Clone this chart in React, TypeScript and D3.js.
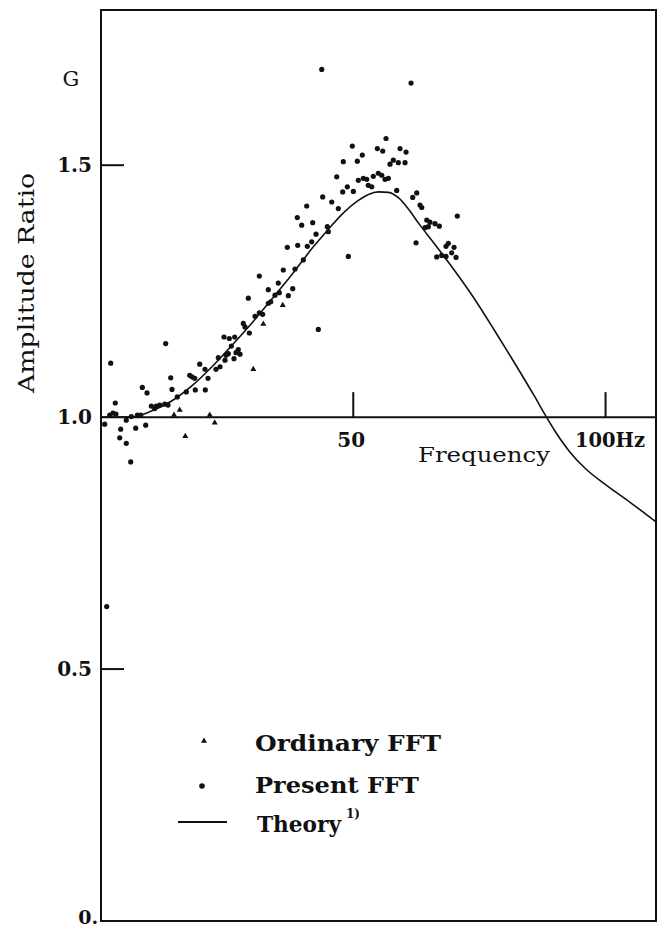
import React from "react";
import * as d3 from "d3";

// Present FFT samples [frequency Hz, amplitude ratio]
const presentFFT: [number, number][] = [
  [0.73, 0.986], [1.72, 1.004], [2.38, 1.008], [2.97, 1.006], [1.92, 1.107],
  [2.83, 1.028], [3.9, 0.976], [3.71, 0.959], [5.01, 0.948], [5.89, 0.911],
  [5.01, 0.994], [6.01, 1.001], [6.88, 0.978], [7.2, 1.004], [7.87, 1.004],
  [8.86, 0.984], [8.19, 1.059], [9.12, 1.048], [9.97, 1.022], [10.64, 1.017],
  [10.96, 1.022], [11.64, 1.024], [12.63, 1.026], [13.28, 1.024], [12.82, 1.146],
  [13.82, 1.078], [14.07, 1.055], [15.12, 1.04], [16.91, 1.05], [17.58, 1.083],
  [18.04, 1.08], [18.57, 1.077], [18.69, 1.054], [19.56, 1.105], [20.67, 1.054],
  [21.21, 1.077], [20.61, 1.095], [22.79, 1.095], [23.59, 1.1], [23.25, 1.118],
  [24.58, 1.113], [26.36, 1.116], [25.23, 1.126], [24.78, 1.123], [27.21, 1.134],
  [26.76, 1.128], [27.55, 1.125], [24.38, 1.159], [25.43, 1.156], [25.83, 1.141],
  [26.5, 1.159], [28.21, 1.186], [28.54, 1.179], [29.4, 1.167], [30.53, 1.2],
  [31.38, 1.207], [32.05, 1.204], [33.16, 1.226], [33.64, 1.229], [29.2, 1.236],
  [31.38, 1.28], [33.16, 1.253], [34.49, 1.242], [35.34, 1.247], [35.14, 1.266],
  [36.13, 1.292], [37.13, 1.241], [38.0, 1.255], [38.45, 1.294], [40.1, 1.312],
  [36.93, 1.337], [38.99, 1.341], [40.89, 1.339], [41.76, 1.348], [42.62, 1.363],
  [38.91, 1.396], [39.78, 1.381], [41.96, 1.386], [40.77, 1.419], [44.86, 1.378],
  [45.05, 1.368], [43.07, 1.174], [43.94, 1.437], [45.73, 1.427], [47.04, 1.414],
  [46.72, 1.477], [48.03, 1.507], [49.81, 1.538], [48.82, 1.457], [47.91, 1.447],
  [50.01, 1.448], [50.8, 1.508], [51.79, 1.52], [51.0, 1.47], [51.99, 1.474],
  [52.67, 1.472], [52.98, 1.46], [53.66, 1.457], [53.97, 1.478], [54.96, 1.484],
  [55.64, 1.48], [56.29, 1.472], [56.95, 1.474], [54.77, 1.533], [55.84, 1.528],
  [56.49, 1.553], [57.28, 1.502], [57.94, 1.51], [58.93, 1.505], [60.26, 1.505],
  [59.27, 1.533], [60.46, 1.526], [58.61, 1.45], [62.58, 1.445], [61.78, 1.436],
  [63.23, 1.421], [63.57, 1.416], [62.44, 1.346], [64.56, 1.391], [65.21, 1.387],
  [64.88, 1.378], [64.22, 1.376], [66.2, 1.384], [67.06, 1.379], [70.62, 1.399],
  [49.02, 1.319], [68.84, 1.345], [68.38, 1.339], [69.51, 1.326], [69.97, 1.337],
  [66.54, 1.318], [67.53, 1.321], [68.38, 1.319], [70.37, 1.317],
  [43.75, 1.69], [61.45, 1.663], [1.13, 0.624],
];

// Ordinary FFT samples
const ordinaryFFT: [number, number][] = [
  [14.47, 1.004], [15.6, 1.014], [21.55, 1.004], [16.71, 0.962],
  [22.54, 0.989], [30.19, 1.095], [32.17, 1.185], [36.02, 1.222],
];

// Theory curve
const theory: [number, number][] = [
  [0, 1.0], [6, 1.0], [10, 1.012], [14, 1.032], [18, 1.062], [22, 1.1],
  [26, 1.143], [30, 1.188], [34, 1.236], [38, 1.285], [42, 1.337], [45, 1.372],
  [48, 1.405], [51, 1.43], [53, 1.442], [55, 1.447], [57, 1.446], [59, 1.435],
  [61, 1.412], [63, 1.384], [66, 1.345], [70, 1.292], [74, 1.235], [78, 1.172],
  [82, 1.107], [86, 1.04], [88, 1.005], [90, 0.972], [93, 0.93], [96, 0.898],
  [100, 0.866], [105, 0.83], [110, 0.792],
];

const yTicks = [0.5, 1.5];
const yTickLabels = [
  { v: 0, label: "0." },
  { v: 0.5, label: "0.5" },
  { v: 1.0, label: "1.0" },
  { v: 1.5, label: "1.5" },
];
const xTicks = [50, 100];
const xTickLabels = ["50", "100Hz"];

const W = 664;
const H = 929;
const serif = "'DejaVu Serif', 'Liberation Serif', serif";

export default function App() {
  const x = d3.scaleLinear().domain([0, 110]).range([101, 656]);
  const y = d3.scaleLinear().domain([0, 1.808]).range([921, 10]);

  const line = d3
    .line<[number, number]>()
    .x((d) => x(d[0]))
    .y((d) => y(d[1]))
    .curve(d3.curveMonotoneX);

  const tri = d3.symbol().type(d3.symbolTriangle).size(16)();

  const x0 = x.range()[0];
  const x1 = x.range()[1];
  const yTop = y.range()[1];
  const yBot = y.range()[0];

  return (
    <svg
      width={W}
      height={H}
      style={{ position: "absolute", left: 0, top: 0, background: "#fff" }}
    >
      {/* frame */}
      <rect
        x={x0}
        y={yTop}
        width={x1 - x0}
        height={yBot - yTop}
        fill="none"
        stroke="#111"
        strokeWidth={2}
      />
      {/* frequency axis at G = 1 */}
      <line x1={x0} x2={x1} y1={y(1)} y2={y(1)} stroke="#111" strokeWidth={2} />
      {xTicks.map((t) => (
        <line
          key={t}
          x1={x(t)}
          x2={x(t)}
          y1={y(1)}
          y2={y(1) - 25}
          stroke="#111"
          strokeWidth={2}
        />
      ))}
      {yTicks.map((t) => (
        <line
          key={t}
          x1={x0}
          x2={x0 + 23}
          y1={y(t)}
          y2={y(t)}
          stroke="#111"
          strokeWidth={2}
        />
      ))}

      {/* theory */}
      <path d={line(theory) ?? ""} fill="none" stroke="#111" strokeWidth={1.6} />

      {presentFFT.map((d, i) => (
        <circle key={i} cx={x(d[0])} cy={y(d[1])} r={2.6} fill="#111" />
      ))}
      {ordinaryFFT.map((d, i) => (
        <path
          key={i}
          d={tri ?? ""}
          transform={`translate(${x(d[0])},${y(d[1])})`}
          fill="#111"
        />
      ))}

      {/* y tick labels */}
      {yTickLabels.map((t) => (
        <text
          key={t.label}
          x={t.v === 0 ? 98 : 92}
          y={t.v === 0 ? 924 : y(t.v) + 7}
          textAnchor="end"
          fontFamily={serif}
          fontWeight="bold"
          fontSize={t.v === 0 ? 19 : 20}
          fill="#111"
        >
          {t.label}
        </text>
      ))}
      {/* x tick labels */}
      <text
        x={x(xTicks[0]) - 2}
        y={447}
        textAnchor="middle"
        fontFamily={serif}
        fontWeight="bold"
        fontSize={20}
        fill="#111"
      >
        {xTickLabels[0]}
      </text>
      <text
        x={575}
        y={447}
        textLength={70}
        lengthAdjust="spacingAndGlyphs"
        fontFamily={serif}
        fontWeight="bold"
        fontSize={20}
        fill="#111"
      >
        {xTickLabels[1]}
      </text>
      <text
        x={418}
        y={462}
        textLength={132}
        lengthAdjust="spacingAndGlyphs"
        fontFamily={serif}
        fontSize={20}
        fill="#111"
      >
        Frequency
      </text>

      {/* axis titles */}
      <text x={71} y={86} textAnchor="middle" fontFamily={serif} fontSize={21} fill="#111">
        G
      </text>
      <text
        transform="translate(34,393) rotate(-90)"
        textLength={220}
        lengthAdjust="spacingAndGlyphs"
        fontFamily={serif}
        fontSize={23}
        fill="#111"
      >
        Amplitude Ratio
      </text>

      {/* legend */}
      <path d={tri ?? ""} transform="translate(204,741)" fill="#111" />
      <text
        x={255}
        y={751}
        textLength={186}
        lengthAdjust="spacingAndGlyphs"
        fontFamily={serif}
        fontWeight="bold"
        fontSize={23}
        fill="#111"
      >
        Ordinary FFT
      </text>
      <circle cx={202} cy={786} r={2.8} fill="#111" />
      <text
        x={255}
        y={793}
        textLength={164}
        lengthAdjust="spacingAndGlyphs"
        fontFamily={serif}
        fontWeight="bold"
        fontSize={23}
        fill="#111"
      >
        Present FFT
      </text>
      <line x1={178} x2={227} y1={822} y2={822} stroke="#111" strokeWidth={1.8} />
      <text
        x={257}
        y={832}
        textLength={84}
        lengthAdjust="spacingAndGlyphs"
        fontFamily={serif}
        fontWeight="bold"
        fontSize={23}
        fill="#111"
      >
        Theory
      </text>
      <text x={346} y={818} fontFamily={serif} fontWeight="bold" fontSize={12} fill="#111">
        1)
      </text>
    </svg>
  );
}
